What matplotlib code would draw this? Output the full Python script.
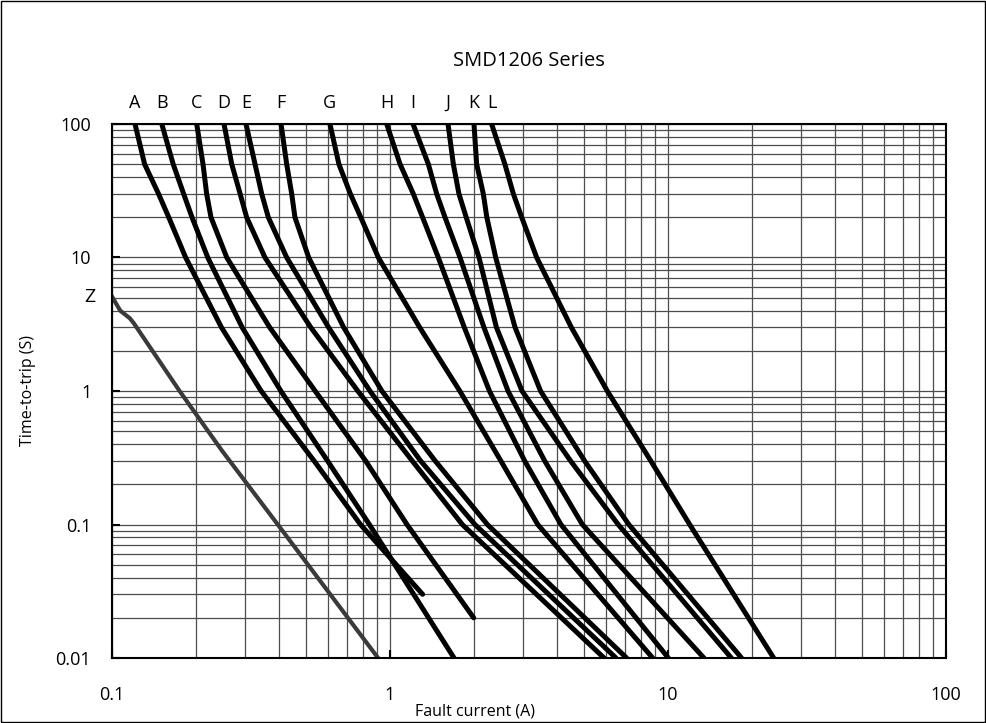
import numpy as np
import matplotlib
matplotlib.use("Agg")
import matplotlib.pyplot as plt
from matplotlib.patches import Rectangle

plt.rcParams['font.family'] = ['Open Sans', 'DejaVu Sans']

y_levels = [100, 50, 30, 20, 10, 3, 1, 0.3, 0.1]

# fault current (A) of each curve at those levels
curves = {
    "A": [0.121, 0.131, 0.147, 0.160, 0.184, 0.2475, 0.344, 0.533, 0.783],
    "B": [0.151, 0.166, 0.181, 0.194, 0.221, 0.2938, 0.405, 0.596, 0.843],
    "C": [0.2017, 0.2125, 0.219, 0.227, 0.2587, 0.369, 0.538, 0.817, 1.151],
    "D": [0.2529, 0.2696, 0.289, 0.305, 0.355, 0.5185, 0.766, 1.202, 1.82],
    "E": [0.3034, 0.327, 0.3455, 0.365, 0.425, 0.601, 0.847, 1.288, 2.02],
    "F": [0.4055, 0.425, 0.443, 0.455, 0.51, 0.681, 0.935, 1.453, 2.24],
    "G": [0.608, 0.655, 0.72, 0.785, 0.908, 1.278, 1.783, 2.504, 3.40],
    "H": [0.973, 1.087, 1.213, 1.31, 1.492, 1.85, 2.279, 3.05, 4.12],
    "I": [1.21, 1.374, 1.472, 1.577, 1.786, 2.177, 2.658, 3.60, 4.92],
    "J": [1.617, 1.69, 1.77, 1.88, 2.09, 2.414, 2.985, 4.46, 6.62],
    "K": [2.005, 2.05, 2.166, 2.23, 2.40, 2.817, 3.48, 5.01, 7.23],
    "L": [2.32, 2.59, 2.778, 2.977, 3.37, 4.49, 6.05, 8.67, 11.97],
}
# last point of each curve
end_x = [1.31, 1.70, 2.0, 5.89, 6.5, 7.1, 8.81, 10.03, 13.47, 16.9, 18.4, 24.0]
end_y = [0.03, 0.01, 0.02, 0.01, 0.01, 0.01, 0.01, 0.01, 0.01, 0.01, 0.01, 0.01]

# Z curve (grey)
z_x = [0.1, 0.107, 0.116, 0.12, 0.175, 0.248, 0.41, 0.906]
z_y = [5.1, 4.0, 3.5, 3.2, 1.0, 0.36, 0.09, 0.01]

fig = plt.figure(figsize=(9.86, 7.23), dpi=100)
ax = fig.add_axes([0.1136, 0.0899, 0.8458, 0.7386])
ax.set_xscale("log")
ax.set_yscale("log")
ax.set_xlim(0.1, 100)
ax.set_ylim(0.01, 100)

ax.grid(True, which="both", color="0.3", lw=0.9)
ax.set_axisbelow(True)

for i, (name, xs) in enumerate(curves.items()):
    x = xs + [end_x[i]]
    y = y_levels + [end_y[i]]
    ax.plot(x, y, color="black", lw=3.6, solid_capstyle="round",
            solid_joinstyle="round")
    ax.text(xs[0], 1.022, name, transform=ax.get_xaxis_transform(),
            ha="center", va="bottom", fontsize=13)

ax.plot(z_x, z_y, color="#3a3a3a", lw=3.0, solid_joinstyle="round")
ax.text(-0.02, z_y[0], "Z", transform=ax.get_yaxis_transform(),
        ha="right", va="center", fontsize=14)

ax.set_xticks([0.1, 1, 10, 100])
ax.set_xticklabels(["0.1", "1", "10", "100"])
ax.set_yticks([0.01, 0.1, 1, 10, 100])
ax.set_yticklabels(["0.01", "0.1", "1", "10", "100"])
ax.tick_params(which="major", direction="in", length=6, width=1.5, labelsize=13)
ax.tick_params(which="minor", length=0)
ax.tick_params(axis="x", pad=20)
ax.tick_params(axis="y", pad=15)

for s in ax.spines.values():
    s.set_linewidth(1.5)

ax.set_title("SMD1206 Series", fontsize=14.5, pad=42)
ax.set_xlabel("Fault current (A)", fontsize=11.5)
ax.xaxis.set_label_coords(0.435, -0.086)
ax.set_ylabel("Time-to-trip (S)", fontsize=11.5)
ax.yaxis.set_label_coords(-0.091, 0.5)

fig.patches.append(Rectangle((0.001, 0.001), 0.998, 0.998, transform=fig.transFigure,
                             fill=False, edgecolor="black", lw=1))

plt.savefig("out.png", dpi=100)
